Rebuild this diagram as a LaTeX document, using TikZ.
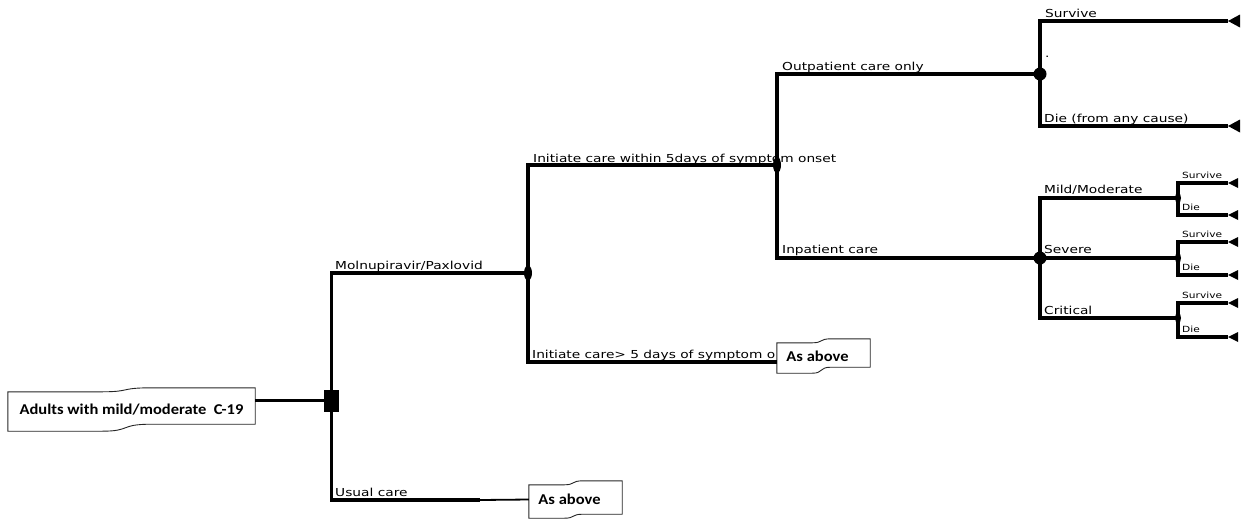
\documentclass[tikz,border=0pt]{standalone}
\usepackage{fontspec}
\usetikzlibrary{calc,shapes.geometric}
\newfontfamily\lblfont[FakeStretch=1.25]{DejaVu Sans}
\newfontfamily\boxfont[FakeStretch=1.1]{Carlito}
% tape outline: #1 node, #2 top drop on left (pt), #3 bottom rise on right (pt)
\newcommand\tapeframe[3]{%
  \draw[tapeline] (#1.south west) -- ($(#1.north west)+(0pt,-#2pt)$)
    -- ($(#1.north west)!0.38!(#1.north east)+(0pt,-#2pt)$)
    .. controls ($(#1.north west)!0.5!(#1.north east)+(0pt,-#2pt)$) and ($(#1.north west)!0.45!(#1.north east)$)
    .. ($(#1.north west)!0.58!(#1.north east)$)
    -- (#1.north east) -- ($(#1.south east)+(0pt,#3pt)$)
    -- ($(#1.south west)!0.58!(#1.south east)+(0pt,#3pt)$)
    .. controls ($(#1.south west)!0.45!(#1.south east)+(0pt,#3pt)$) and ($(#1.south west)!0.5!(#1.south east)$)
    .. ($(#1.south west)!0.38!(#1.south east)$) -- cycle;}
\begin{document}
\begin{tikzpicture}[x=1pt,y=-1pt,
  lbl/.style={font=\lblfont\fontsize{11}{13}\selectfont, anchor=base west, inner sep=0pt},
  small/.style={font=\lblfont\fontsize{8.5}{10}\selectfont, anchor=base west, inner sep=0pt},
  tapebox/.style={rectangle, fill=white, inner sep=0pt, font=\boxfont\bfseries\fontsize{15}{17}\selectfont},
  tapeline/.style={line width=0.9pt, draw=black!85},
  branch/.style={line width=3.3pt},
  thinbranch/.style={line width=1.8pt},
  decision/.style={rectangle, fill=black, minimum width=15pt, minimum height=22pt, inner sep=0pt},
  chance/.style={ellipse, fill=black, inner sep=0pt},
]
\useasboundingbox (0,0) rectangle (1241,523);

% labels
\node[lbl] (lmol) at (335,269) {Molnupiravir/Paxlovid};
\node[lbl] (lusual) at (335,496) {Usual care};
\node[lbl] (lwithin) at (533,162) {Initiate care within 5days of symptom onset};
\node[lbl] (lafter) at (532,358) {Initiate care> 5 days of symptom o};
\node[lbl] (lout) at (782,70) {Outpatient care only};
\node[lbl] (lin) at (782,253) {Inpatient care};
\node[lbl] (lsurv) at (1045,17) {Survive};
\node[lbl] (ldie) at (1044,122) {Die (from any cause)};
\node[lbl] (ldot) at (1045,57) {.};
\node[lbl] (lmild) at (1044,193) {Mild/Moderate};
\node[lbl] (lsev) at (1044,253) {Severe};
\node[lbl] (lcrit) at (1044,314) {Critical};
\node[small] (s1) at (1182,178) {Survive};
\node[small] (d1) at (1182,210) {Die};
\node[small] (s2) at (1182,237) {Survive};
\node[small] (d2) at (1182,270) {Die};
\node[small] (s3) at (1182,298) {Survive};
\node[small] (d3) at (1182,332) {Die};

% nodes
\node[tapebox, minimum width=247pt, minimum height=43pt] (R) at (131.5,409.5) {Adults with mild/moderate\ \ C-19};
\node[decision] (D) at (331.5,400.5) {};
\node[chance, minimum width=8pt, minimum height=15pt] (C1) at (528,273) {};
\node[chance, minimum width=8pt, minimum height=16pt] (C2) at (777,165) {};
\node[chance, minimum width=13pt, minimum height=13pt] (C3) at (1040,74) {};
\node[chance, minimum width=13pt, minimum height=13pt] (C4) at (1040,258) {};
\node[chance, minimum width=6pt, minimum height=11pt] (S1) at (1178,198) {};
\node[chance, minimum width=6pt, minimum height=11pt] (S2) at (1178,258) {};
\node[chance, minimum width=6pt, minimum height=11pt] (S3) at (1178,318) {};
\node[tapebox, minimum width=93pt, minimum height=34pt] (A1) at (823.5,356) {\hspace*{-12pt}As above};
\node[tapebox, minimum width=93pt, minimum height=37pt] (A2) at (575.5,499.5) {\hspace*{-12pt}As above};
\tapeframe{R}{4}{7}
\tapeframe{A1}{4}{6}
\tapeframe{A2}{4}{4}

\coordinate (U) at (480,500);
\coordinate (T1) at (1228,21);
\coordinate (T2) at (1228,126);
\coordinate (T3) at (1228,183);
\coordinate (T4) at (1228,215);
\coordinate (T5) at (1228,242);
\coordinate (T6) at (1228,275);
\coordinate (T7) at (1228,303);
\coordinate (T8) at (1228,337);

% connectors
\draw[branch] ($(R.east)+(0,-9)$) -- (D.center);
\draw[branch] (D.center) |- (C1.center);
\draw[branch] (D.center) |- (U);
\draw[thinbranch] (U) -- (A2.west);
\draw[branch] (C1.center) |- (C2.center);
\draw[branch] (C1.center) |- ($(A1.west)+(0,6)$);
\draw[branch] (C2.center) |- (C3.center);
\draw[branch] (C2.center) |- (C4.center);
\draw[branch] (C3.center) |- (T1);
\draw[branch] (C3.center) |- (T2);
\draw[branch] (C4.center) |- (S1.center);
\draw[branch] (C4.center) |- (S2.center);
\draw[branch] (C4.center) |- (S3.center);
\draw[branch] (S1.center) |- (T3);
\draw[branch] (S1.center) |- (T4);
\draw[branch] (S2.center) |- (T5);
\draw[branch] (S2.center) |- (T6);
\draw[branch] (S3.center) |- (T7);
\draw[branch] (S3.center) |- (T8);

% terminal triangles
\foreach \t in {T1,T2}{\fill (\t) -- ++(12pt,6.5pt) -- ++(0pt,-13pt) -- cycle;}
\foreach \t in {T3,T4,T5,T6,T7,T8}{\fill (\t) -- ++(10pt,5pt) -- ++(0pt,-10pt) -- cycle;}
\end{tikzpicture}
\end{document}
